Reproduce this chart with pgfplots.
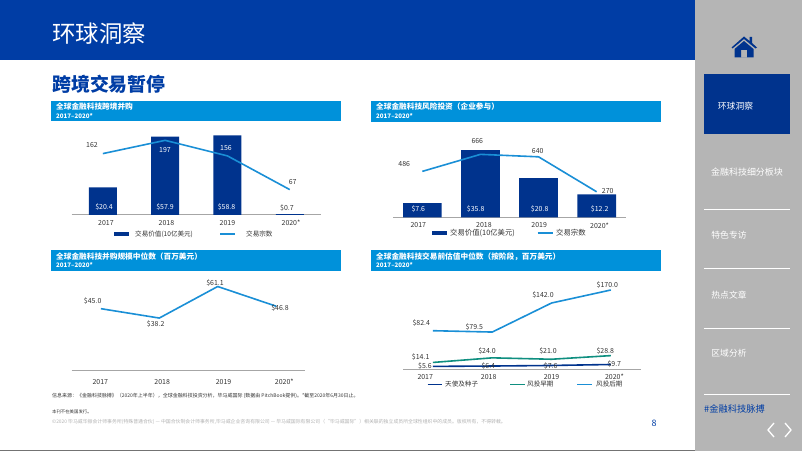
\documentclass[border=0pt]{standalone}
\usepackage{fontspec}
\usepackage{pgfplots}
\pgfplotsset{compat=1.18}
\setmainfont{Noto Sans CJK SC}
\definecolor{kblue}{HTML}{00338D}
\definecolor{hblue}{HTML}{003DA5}
\definecolor{band}{HTML}{0091DA}
\definecolor{lineb}{HTML}{1A8FD6}
\definecolor{teal2}{HTML}{0F8F80}
\definecolor{side}{HTML}{B5B5B5}
\definecolor{txt}{HTML}{333333}
\newcommand{\fs}[1]{\fontsize{#1}{#1}\selectfont}
\pgfplotsset{
  base/.style={scale only axis, clip=false, axis x line=bottom, axis y line=none,
    axis line style={draw=black!35, line width=1bp, -}, tick style={draw=none},
    xmin=-0.5, xmax=3.5, xticklabels={2017,2018,2019,2020*}, ymin=0,
    tick label style={font=\fs{7}, text=txt, inner sep=0pt},
    xticklabel style={yshift=-3bp}},
  over/.style={scale only axis, clip=false, hide axis, xmin=-0.5, xmax=3.5, ymin=0},
  ser/.style={line width=1.6bp, lineb, no markers, line join=round},
}
\begin{document}
\begin{tikzpicture}[x=1bp,y=-1bp]
\useasboundingbox (0,0) rectangle (802,451);
% page furniture
\fill[hblue] (0,0) rectangle (695,60);
\fill[side] (695,0) rectangle (802,451);
\fill[black!55] (0,450) rectangle (695,451);
\node[anchor=west,inner sep=0,text=white] at (52,34) {\fs{23.5}环球洞察};
\node[anchor=west,inner sep=0,text=hblue] at (52,84) {\fs{19}\bfseries 跨境交易暂停};
\foreach \a/\b/\c/\d/\t/\u in {51/100.7/341/121.3/全球金融科技跨境并购/x,371/101/661/122/全球金融科技风险投资（企业参与）/x,51/250.3/341/271/全球金融科技并购规模中位数（百万美元）/x,371/250.3/661/271/全球金融科技交易前估值中位数（按阶段，百万美元）/x}{
  \fill[band] (\a,\b) rectangle (\c,\d);
  \node[anchor=west,inner sep=0,text=white] at (\a+5,\b+6) {\fs{7.7}\bfseries \t};
  \node[anchor=west,inner sep=0,text=white] at (\a+5,\b+15) {\fs{6.2}\bfseries 2017–2020*};
}
% sidebar
\fill[kblue] (704,74) rectangle (790,134);
\node[text=white,inner sep=0] at (735.5,106) {\fs{8.8}环球洞察};
\node[text=white,inner sep=0] at (747,172) {\fs{9}金融科技细分板块};
\node[text=white,inner sep=0] at (729,235) {\fs{8.8}特色专访};
\node[text=white,inner sep=0] at (729,295) {\fs{8.8}热点文章};
\node[text=white,inner sep=0] at (729,353) {\fs{8.8}区域分析};
\foreach \y in {209,268,328,394} \draw[white,line width=0.8bp] (704,\y) -- (790,\y);
\node[anchor=west,inner sep=0,text=hblue] at (704,409) {\fs{9.3}\#金融科技脉搏};
\draw[white,line width=1.3bp] (774,423) -- (768,430) -- (774,437);
\draw[white,line width=1.3bp] (785,423) -- (791,430) -- (785,437);
% home icon
\fill[kblue] (744,36.5) -- (749.5,41) -- (749.5,37) -- (752,37) -- (752,43) -- (757,47.5) -- (755.5,48.5) -- (744,39) -- (732.5,48.5) -- (731.5,47.5) -- cycle;
\fill[kblue,even odd rule] (744,41) -- (753.5,49) -- (753.5,57.5) -- (734.5,57.5) -- (734.5,49) -- cycle (741,57.5) rectangle (747,50);
% footnotes
\node[anchor=west,inner sep=0,text=txt] at (52,396) {\fs{5}信息来源：《金融科技脉搏》（2020年上半年），全球金融科技投资分析，毕马威国际 (数据由 PitchBook提供)。*截至2020年6月30日止。};
\node[anchor=west,inner sep=0,text=txt] at (52,411.5) {\fs{4.4}本刊不在美国发行。};
\node[anchor=west,inner sep=0,text=black!30] at (52,422) {\fs{4.9}©2020 毕马威华振会计师事务所(特殊普通合伙) — 中国合伙制会计师事务所,毕马威企业咨询有限公司 — 毕马威国际有限公司（“毕马威国际”）相关联的独立成员所全球性组织中的成员。版权所有，不得转载。};
\node[inner sep=0,text=hblue] at (654,423) {\fs{9}8};
% anchors
\coordinate (a1) at (71.7,215);
\coordinate (a2) at (393.3,217.3);
\coordinate (a3) at (71.7,370.7);
\coordinate (a4) at (403.3,369);
% chart 1
\begin{axis}[base, at={(a1)}, anchor=south west, width=249.2bp, height=85bp, ymax=62.7, xtick={0.05,1.02,2,3.02}]
\addplot[ybar, bar width=28bp, fill=kblue, draw=none] coordinates {(0,20.4) (1,57.9) (2,58.8) (3,0.7)};
\end{axis}
\begin{axis}[over, at={(a1)}, anchor=south west, width=249.2bp, height=85bp, ymax=224.3]
\addplot[ser] coordinates {(0,162) (1,197) (2,156) (3,67)};
\end{axis}
% chart 2
\begin{axis}[base, at={(a2)}, anchor=south west, width=232.4bp, height=75bp, ymax=39.9, xticklabel style={yshift=0bp}, xtick={-0.07,1.06,2.01,3.05}]
\addplot[ybar, bar width=38.7bp, fill=kblue, draw=none] coordinates {(0,7.6) (1,35.8) (2,20.8) (3,12.2)};
\end{axis}
\begin{axis}[over, at={(a2)}, anchor=south west, width=232.4bp, height=75bp, ymax=793.7]
\addplot[ser] coordinates {(0,486) (1,666) (2,640) (3,270)};
\end{axis}
% chart 3
\begin{axis}[base, at={(a3)}, anchor=south west, width=233.6bp, height=90bp, ymax=65.3, xticklabel style={yshift=-3bp}, xtick={-0.01,1.05,2.1,3.14}]
\addplot[ser] coordinates {(0,45.0) (1,38.2) (2,61.1) (3,46.8)};
\end{axis}
% chart 4
\begin{axis}[base, at={(a4)}, anchor=south west, width=237.2bp, height=85bp, ymax=182.9, xticklabel style={yshift=0bp}, xtick={-0.13,0.94,2,3.06}]
\addplot[ser, draw=kblue] coordinates {(0,5.6) (1,6.4) (2,7.6) (3,9.7)};
\addplot[ser, draw=teal2] coordinates {(0,14.1) (1,24.0) (2,21.0) (3,28.8)};
\addplot[ser, draw=lineb] coordinates {(0,82.4) (1,79.5) (2,142.0) (3,170.0)};
\end{axis}
% data labels
\foreach \x/\y/\t in {92/145/162,292.7/182/67,287/208/\$0.7,
  404.3/164/486,477.3/141.3/666,537.7/151/640,607.7/191/270,
  92.7/300.7/\$45.0,155.7/323.7/\$38.2,215/283.3/\$61.1,280/308.3/\$46.8,
  421.3/323/\$82.4,474.3/327/\$79.5,543/295/\$142.0,607.3/285/\$170.0,
  420.7/357/\$14.1,487/351.3/\$24.0,548/351.3/\$21.0,605.3/350.7/\$28.8,
  425/365.7/\$5.6,488.3/365.7/\$6.4,550.7/365.7/\$7.6,614.3/364.3/\$9.7}
  \node[inner sep=0,text=txt] at (\x,\y) {\fs{7}\t};
\foreach \x/\y/\t in {104/207/\$20.4,165/207/\$57.9,226.5/207/\$58.8,165/150/197,226/148/156,
  418.3/209.3/\$7.6,475.7/209.3/\$35.8,539.7/209.3/\$20.8,599.7/209.3/\$12.2}
  \node[inner sep=0,text=white] at (\x,\y) {\fs{7}\t};
% legends
\fill[kblue] (114,232) rectangle (129.3,236);
\node[anchor=west,inner sep=0,text=txt] at (135,234) {\fs{6.6}交易价值(10亿美元)};
\draw[lineb,line width=1.6bp] (220,234) -- (235,234);
\node[anchor=west,inner sep=0,text=txt] at (246,234) {\fs{6.6}交易宗数};
\fill[kblue] (431.7,231) rectangle (447.3,235.5);
\node[anchor=west,inner sep=0,text=txt] at (450,233) {\fs{7.4}交易价值(10亿美元)};
\draw[lineb,line width=1.6bp] (537.7,233) -- (553,233);
\node[anchor=west,inner sep=0,text=txt] at (556,233) {\fs{7.4}交易宗数};
\draw[kblue,line width=1.6bp] (427.7,384.3) -- (442,384.3);
\node[anchor=west,inner sep=0,text=txt] at (445,384.3) {\fs{6.6}天使及种子};
\draw[teal2,line width=1.6bp] (510,384.3) -- (525,384.3);
\node[anchor=west,inner sep=0,text=txt] at (527,384.3) {\fs{6.6}风投早期};
\draw[lineb,line width=1.6bp] (577.3,384.3) -- (592,384.3);
\node[anchor=west,inner sep=0,text=txt] at (596,384.3) {\fs{6.6}风投后期};
\end{tikzpicture}
\end{document}
